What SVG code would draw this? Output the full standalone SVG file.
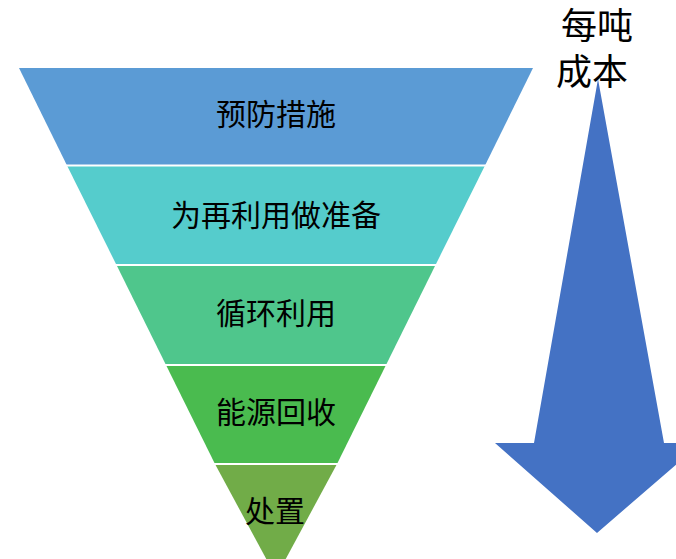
<svg xmlns="http://www.w3.org/2000/svg" width="676" height="559" viewBox="0 0 676 559">
<style>
text{font-family:"Noto Sans CJK SC","Noto Sans",sans-serif;fill:#000;text-anchor:middle}
.lbl{font-size:30px}
.ttl{font-size:36px}
.sep{stroke:#fff;stroke-width:2}
</style>
<rect width="676" height="559" fill="#fff"/>
<g id="band1"><polygon points="19,68 533,68 485,165.5 67,165.5" fill="#5B9BD5"/><text class="lbl" x="276" y="125">预防措施</text></g>
<g id="band2"><polygon points="67,165.5 485,165.5 435.5,265 116.5,265" fill="#55CCCC"/><text class="lbl" x="276" y="226">为再利用做准备</text></g>
<g id="band3"><polygon points="116.5,265 435.5,265 386,365 166,365" fill="#4FC68C"/><text class="lbl" x="276" y="323.5">循环利用</text></g>
<g id="band4"><polygon points="166,365 386,365 337,464 215,464" fill="#4ABB4F"/><text class="lbl" x="276" y="423">能源回收</text></g>
<g id="band5"><polygon points="215,464 337,464 276,577" fill="#71AC48"/><text class="lbl" x="275" y="522">处置</text></g>
<g id="separators">
<line class="sep" x1="60" y1="165.5" x2="495" y2="165.5"/>
<line class="sep" x1="110" y1="265" x2="445" y2="265"/>
<line class="sep" x1="160" y1="365" x2="395" y2="365"/>
<line class="sep" x1="208" y1="464" x2="345" y2="464"/>
</g>
<g id="arrow"><polygon points="598,79 664,443 701,443 597,533 495,443 534,443" fill="#4472C4"/></g>
<g id="cost-label"><text class="ttl" x="597" y="39">每吨</text><text class="ttl" x="592" y="84.5">成本</text></g>
</svg>
